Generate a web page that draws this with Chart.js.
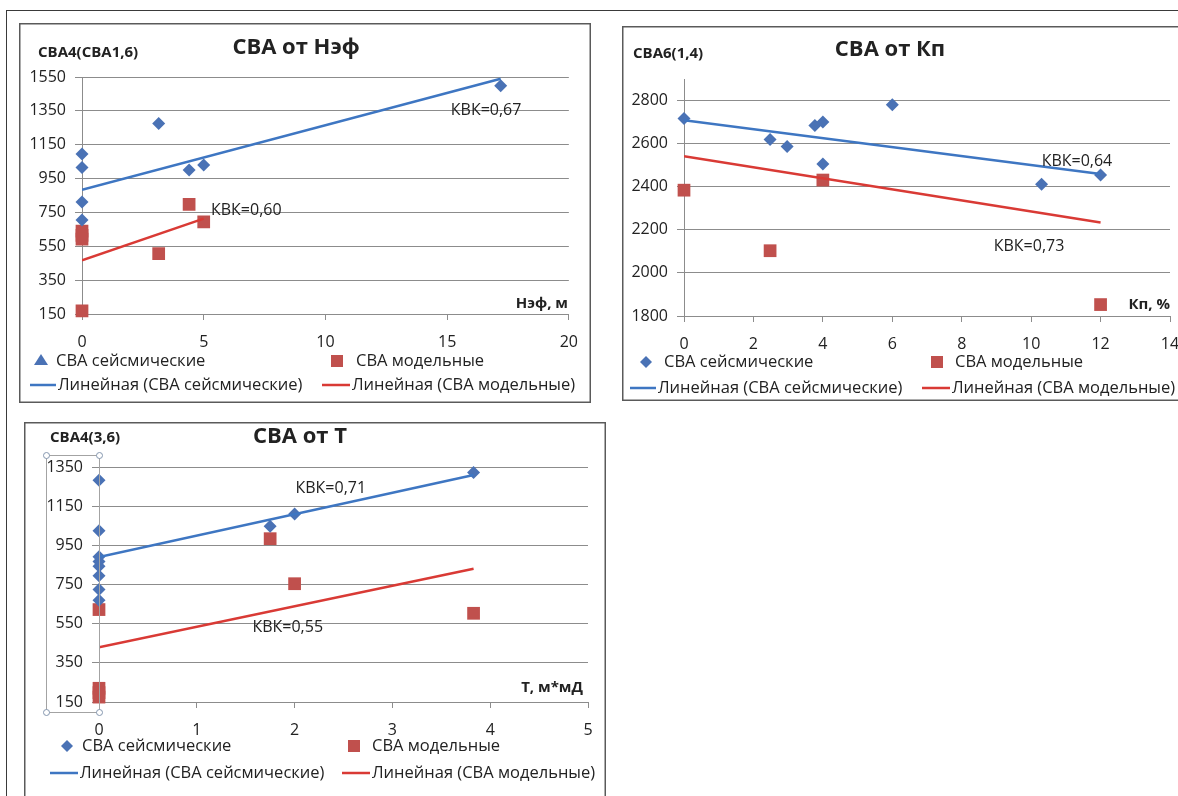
<!DOCTYPE html>
<html lang="ru">
<head>
<meta charset="utf-8">
<title>СВА: зависимости от Нэф, Кп и T</title>
<script src="https://cdn.jsdelivr.net/npm/chart.js@4.4.1/dist/chart.umd.min.js"></script>
<style>
  html, body { margin: 0; padding: 0; background: #fff; }
  body { position: relative; width: 1178px; height: 796px; overflow: hidden; }
  .frame { position: absolute; left: 6px; top: 10px; width: 1300px; height: 900px;
           border-left: 1.5px solid #3a3a3a; border-top: 1.5px solid #3a3a3a; }
  canvas { position: absolute; }
</style>
</head>
<body>
<div class="frame"></div>
<canvas id="nef" width="572" height="380" style="left:19px;top:23px;width:572px;height:380px"></canvas>
<canvas id="kp" width="600" height="375" style="left:622px;top:26px;width:600px;height:375px"></canvas>
<canvas id="tr" width="582" height="380" style="left:24px;top:422px;width:582px;height:380px"></canvas>
<script>
// ---------- СВА от Нэф ----------
const nefSeisX = [0, 0, 0, 0, 3.15, 4.4, 5.0, 17.2];
const nefSeisY = [1095, 1016, 812, 705, 1275, 1000, 1030, 1498];
const nefModX  = [0, 0, 0, 0, 3.15, 4.4, 5.0];
const nefModY  = [640, 615, 592, 168, 507, 797, 694];
const nefSeisTrendX = [0, 17.2];
const nefSeisTrendY = [883, 1540];
const nefModTrendX  = [0, 5.0];
const nefModTrendY  = [467, 713];
const nefTicksX = { min: 0, max: 20, step: 5 };
const nefTicksY = { min: 150, max: 1550, step: 200 };

// ---------- СВА от Кп ----------
const kpSeisX = [0, 2.48, 2.97, 3.77, 4.0, 4.0, 6.0, 10.3, 12.0];
const kpSeisY = [2717, 2619, 2587, 2684, 2700, 2506, 2780, 2412, 2455];
const kpModX  = [0, 2.48, 4.0, 12.0];
const kpModY  = [2384, 2103, 2431, 1853];
const kpSeisTrendX = [0, 12];
const kpSeisTrendY = [2709, 2459];
const kpModTrendX  = [0, 12];
const kpModTrendY  = [2541, 2234];
const kpTicksX = { min: 0, max: 14, step: 2 };
const kpTicksY = { min: 1800, max: 2900, step: 200 };

// ---------- СВА от T ----------
const tSeisX = [0, 0, 0, 0, 0, 0, 0, 0, 1.75, 2.0, 3.83];
const tSeisY = [1282, 1025, 892, 868, 843, 795, 724, 670, 1047, 1110, 1322];
const tModX  = [0, 0, 0, 0, 1.75, 2.0, 3.83];
const tModY  = [622, 220, 198, 175, 984, 754, 603];
const tSeisTrendX = [0, 3.83];
const tSeisTrendY = [890, 1309];
const tModTrendX  = [0, 3.83];
const tModTrendY  = [429, 830];
const tTicksX = { min: 0, max: 5, step: 1 };
const tTicksY = { min: 150, max: 1350, step: 200 };

// series names
const SEIS = 'СВА сейсмические';
const MOD = 'СВА модельные';
const SEIS_TREND = 'Линейная (СВА сейсмические)';
const MOD_TREND = 'Линейная (СВА модельные)';

// ---------- styling ----------
const FONT = "'Open Sans', 'DejaVu Sans', sans-serif";
const INK = '#222';
const GRID = '#8c8c8c';
const FRAME = '#5a5a5a';
const BLUE = '#4a72b5';
const RED = '#c0504d';
const BLUE_LINE = '#3e76c2';
const RED_LINE = '#d93a35';

function pts(xs, ys) { return xs.map((x, i) => ({ x, y: ys[i] })); }
const plain = v => String(v);

function marker(ctx, style, cx, cy, color) {
  ctx.fillStyle = color;
  ctx.beginPath();
  if (style === 'rect') {
    ctx.rect(cx - 6, cy - 6, 12, 12);
  } else if (style === 'triangle') {
    ctx.moveTo(cx, cy - 7); ctx.lineTo(cx + 7, cy + 4); ctx.lineTo(cx - 7, cy + 4); ctx.closePath();
  } else {
    ctx.moveTo(cx, cy - 6); ctx.lineTo(cx + 6, cy); ctx.lineTo(cx, cy + 6); ctx.lineTo(cx - 6, cy); ctx.closePath();
  }
  ctx.fill();
}

// headings, notes, legend and panel frame
const decor = {
  id: 'decor',
  afterDatasetsDraw(chart, _args, o) {
    const ctx = chart.ctx, sx = chart.scales.x, sy = chart.scales.y;
    ctx.save();
    ctx.font = `16px ${FONT}`;
    ctx.fillStyle = INK;
    ctx.textAlign = 'center';
    ctx.textBaseline = 'middle';
    o.notes.forEach(n => ctx.fillText(n.text, sx.getPixelForValue(n.x), sy.getPixelForValue(n.y)));
    ctx.restore();
  },
  afterDraw(chart, _args, o) {
    const ctx = chart.ctx, W = chart.width, H = chart.height;
    ctx.save();
    ctx.strokeStyle = FRAME;
    ctx.lineWidth = 1.5;
    ctx.strokeRect(0.75, 0.75, W - 1.5, H - 1.5);

    if (o.handles) {
      const h = o.handles;
      ctx.strokeStyle = '#a3a3a3';
      ctx.lineWidth = 1;
      ctx.strokeRect(h.x1 + 0.5, h.y1 + 0.5, h.x2 - h.x1, h.y2 - h.y1);
      [[h.x1, h.y1], [h.x2, h.y1], [h.x1, h.y2], [h.x2, h.y2]].forEach(([px, py]) => {
        ctx.beginPath();
        ctx.arc(px + 0.5, py + 0.5, 3, 0, Math.PI * 2);
        ctx.fillStyle = '#fff';
        ctx.fill();
        ctx.strokeStyle = '#8496ae';
        ctx.stroke();
      });
    }

    ctx.fillStyle = INK;
    ctx.textBaseline = 'middle';
    ctx.font = `bold 22px ${FONT}`;
    ctx.textAlign = 'center';
    ctx.fillText(o.title.text, o.title.x, o.title.y);
    ctx.font = `bold 15px ${FONT}`;
    ctx.textAlign = 'left';
    ctx.fillText(o.yName.text, o.yName.x, o.yName.y);
    ctx.font = `bold 15px ${FONT}`;
    ctx.textAlign = 'right';
    ctx.fillText(o.xName.text, o.xName.x, o.xName.y);

    ctx.font = `16.5px ${FONT}`;
    ctx.textAlign = 'left';
    o.legend.forEach(it => {
      const ds = chart.data.datasets[it.ds];
      if (it.x2 !== undefined) {
        ctx.strokeStyle = ds.borderColor;
        ctx.lineWidth = ds.borderWidth;
        ctx.beginPath();
        ctx.moveTo(it.x1, it.y);
        ctx.lineTo(it.x2, it.y);
        ctx.stroke();
      } else {
        marker(ctx, it.style, it.cx, it.y, ds.backgroundColor);
      }
      ctx.fillStyle = INK;
      ctx.fillText(ds.label, it.tx, it.y);
    });
    ctx.restore();
  }
};

function build(id, d) {
  return new Chart(document.getElementById(id), {
    type: 'scatter',
    data: {
      datasets: [
        { label: SEIS_TREND, type: 'line', data: pts(d.seisTrendX, d.seisTrendY),
          borderColor: BLUE_LINE, borderWidth: 2.5, pointRadius: 0, pointHoverRadius: 0, fill: false, order: 0 },
        { label: MOD_TREND, type: 'line', data: pts(d.modTrendX, d.modTrendY),
          borderColor: RED_LINE, borderWidth: 2.5, pointRadius: 0, pointHoverRadius: 0, fill: false, order: 0 },
        { label: SEIS, data: pts(d.seisX, d.seisY), pointStyle: 'rectRot', pointRadius: 6.5,
          backgroundColor: BLUE, borderColor: BLUE, borderWidth: 0, order: 1, clip: 14 },
        { label: MOD, data: pts(d.modX, d.modY), pointStyle: 'rect', pointRadius: 9,
          backgroundColor: RED, borderColor: RED, borderWidth: 0, order: 2, clip: 14 }
      ]
    },
    options: {
      responsive: false,
      animation: false,
      events: [],
      layout: { padding: d.pad },
      plugins: { legend: { display: false }, tooltip: { enabled: false }, decor: d.decor },
      scales: {
        x: {
          type: 'linear', min: d.tx.min, max: d.tx.max,
          ticks: { stepSize: d.tx.step, padding: 13, color: INK, font: { family: FONT, size: 16 }, callback: plain },
          grid: { drawOnChartArea: false, drawTicks: true, tickLength: 6, color: GRID },
          border: { color: GRID, width: 1 },
          afterFit: s => { s.height = d.xh; }
        },
        y: {
          type: 'linear', min: d.ty.min, max: d.ty.max,
          ticks: { stepSize: d.ty.step, includeBounds: false, padding: 9, color: INK, font: { family: FONT, size: 16 }, callback: plain },
          grid: { color: GRID, tickLength: 7 },
          border: { color: GRID, width: 1 },
          afterFit: s => { s.width = d.yw; }
        }
      }
    },
    plugins: [decor]
  });
}

build('nef', {
  seisX: nefSeisX, seisY: nefSeisY, modX: nefModX, modY: nefModY,
  seisTrendX: nefSeisTrendX, seisTrendY: nefSeisTrendY, modTrendX: nefModTrendX, modTrendY: nefModTrendY,
  tx: nefTicksX, ty: nefTicksY,
  yw: 63, xh: 40, pad: { left: 0, top: 54, right: 17, bottom: 49 },
  decor: {
    title: { text: 'СВА от Нэф', x: 277, y: 25 },
    yName: { text: 'СВА4(СВА1,6)', x: 19, y: 30 },
    xName: { text: 'Нэф, м', x: 549, y: 281 },
    notes: [ { text: 'КВК=0,67', x: 16.6, y: 1355 }, { text: 'КВК=0,60', x: 6.75, y: 764 } ],
    legend: [
      { ds: 2, style: 'triangle', cx: 22, tx: 37, y: 338 },
      { ds: 3, style: 'rect', cx: 318, tx: 337, y: 338 },
      { ds: 0, x1: 11, x2: 37, tx: 39, y: 362 },
      { ds: 1, x1: 303, x2: 331, tx: 333, y: 362 }
    ]
  }
});

build('kp', {
  seisX: kpSeisX, seisY: kpSeisY, modX: kpModX, modY: kpModY,
  seisTrendX: kpSeisTrendX, seisTrendY: kpSeisTrendY, modTrendX: kpModTrendX, modTrendY: kpModTrendY,
  tx: kpTicksX, ty: kpTicksY,
  yw: 62, xh: 40, pad: { left: 0, top: 53, right: 52, bottom: 45 },
  decor: {
    title: { text: 'СВА от Кп', x: 268, y: 24 },
    yName: { text: 'СВА6(1,4)', x: 11, y: 28 },
    xName: { text: 'Кп, %', x: 548, y: 279 },
    notes: [ { text: 'КВК=0,64', x: 11.32, y: 2519 }, { text: 'КВК=0,73', x: 9.94, y: 2125 } ],
    legend: [
      { ds: 2, style: 'diamond', cx: 24, tx: 42, y: 336 },
      { ds: 3, style: 'rect', cx: 315, tx: 333, y: 336 },
      { ds: 0, x1: 8, x2: 34, tx: 36, y: 362 },
      { ds: 1, x1: 300, x2: 328, tx: 330, y: 362 }
    ]
  }
});

build('tr', {
  seisX: tSeisX, seisY: tSeisY, modX: tModX, modY: tModY,
  seisTrendX: tSeisTrendX, seisTrendY: tSeisTrendY, modTrendX: tModTrendX, modTrendY: tModTrendY,
  tx: tTicksX, ty: tTicksY,
  yw: 75, xh: 40, pad: { left: 0, top: 45, right: 18, bottom: 60 },
  decor: {
    title: { text: 'СВА от T', x: 276, y: 15 },
    yName: { text: 'СВА4(3,6)', x: 26, y: 16 },
    xName: { text: 'T, м*мД', x: 559, y: 266 },
    handles: { x1: 22, y1: 33, x2: 75, y2: 290 },
    notes: [ { text: 'КВК=0,71', x: 2.37, y: 1243 }, { text: 'КВК=0,55', x: 1.93, y: 533 } ],
    legend: [
      { ds: 2, style: 'diamond', cx: 43, tx: 58, y: 324 },
      { ds: 3, style: 'rect', cx: 330, tx: 348, y: 324 },
      { ds: 0, x1: 26, x2: 54, tx: 56, y: 351 },
      { ds: 1, x1: 318, x2: 346, tx: 348, y: 351 }
    ]
  }
});
</script>
</body>
</html>
